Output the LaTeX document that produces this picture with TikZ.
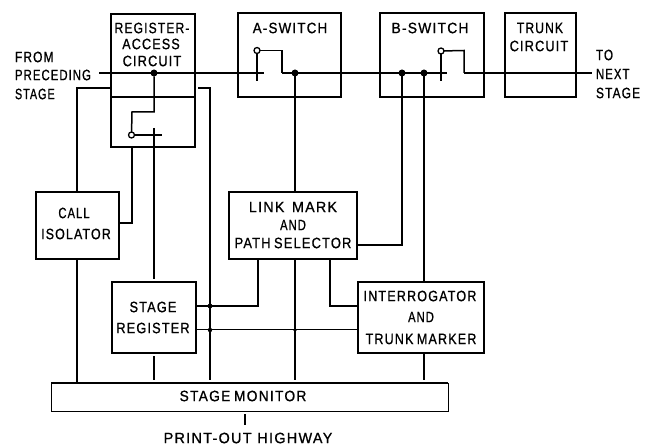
\documentclass[tikz,border=0pt]{standalone}
\usepackage{graphicx}
\usepackage{fontspec}
\setmainfont{Liberation Sans}[LetterSpace=9,FakeBold=1]
\newcommand{\sx}[2]{\scalebox{#1}[1]{#2}}
\tikzset{
  box/.style={draw,rectangle,line width=1.5pt,inner sep=0pt,outer sep=0pt},
  lab/.style={inner sep=0pt,outer sep=0pt,font=\fontsize{15}{15}\selectfont,text=black},
  llab/.style={lab,anchor=west},
  wire/.style={line width=1.5pt},
  thin wire/.style={line width=1pt},
  dot/.style={circle,fill=black,inner sep=0pt,minimum size=7pt,outer sep=0pt},
  contact/.style={circle,draw,fill=white,line width=1.3pt,inner sep=0pt,minimum size=6pt,outer sep=0pt},
  pt/.style={inner sep=0pt,outer sep=0pt,minimum size=0pt}
}
\begin{document}
\begin{tikzpicture}[x=1pt,y=-1pt]
\useasboundingbox (0,0) rectangle (648,446);
% boxes
\node[box,minimum width=84pt,minimum height=133pt] (reg) at (153,80.5) {};
\node[box,minimum width=103pt,minimum height=84pt] (asw) at (289.5,55) {};
\node[box,minimum width=104pt,minimum height=84pt] (bsw) at (432,55) {};
\node[box,minimum width=71pt,minimum height=84pt] (trunk) at (540.5,55) {};
\node[box,minimum width=83pt,minimum height=67pt] (call) at (77.5,225.5) {};
\node[box,minimum width=128pt,minimum height=67pt] (link) at (293,225.5) {};
\node[box,minimum width=84pt,minimum height=71pt] (sreg) at (154,317.5) {};
\node[box,minimum width=126pt,minimum height=71pt] (intg) at (421,317.5) {};
\node[box,line width=1pt,minimum width=397pt,minimum height=28pt] (mon) at (249.5,397) {};
\draw[wire] (mon.north west) -- (mon.north east);
% free points and junctions
\node[pt] (in) at (99,73) {};
\node[pt] (out) at (592,73) {};
\node[dot] (j1) at (154,73) {};
\node[dot] (j2) at (295,73) {};
\node[dot] (j3) at (402,73) {};
\node[dot] (j4) at (424,73) {};
\node[contact] (c0) at (131.5,135) {};
\node[contact] (ca) at (257,50.5) {};
\node[contact] (cb) at (441,51) {};
\fill (210,306) circle (2.4pt) (210,330) circle (2.2pt) (295,330) circle (1.8pt);
% register-access divider
\draw[wire] (reg.west |- 0,97) -- (reg.east |- 0,97);
% main line
\draw[wire] (in) -- (264,73);
\draw[wire] (282,73) -- (447,73);
\draw[wire] (464,73) -- (out);
% A contact
\draw[wire] (ca) -- (257,81);
\draw[wire] (ca) -- (282,50.5) -- (282,73);
% B contact
\draw[wire] (cb) -- (441,81);
\draw[wire] (cb) -- (464,50.5) -- (464,73);
% register-access contact
\draw[wire] (j1) -- (154,112) -- (132,112) -- (c0);
\draw[wire] (c0) -- (162,135);
\draw[wire] (154,128) -- (154,279);
% connectors
\draw[wire] (reg.west |- 0,88) -- (77,88) -- (call.north -| 77,0);
\draw[wire] (198,88) -- (210,88) -- (210,380);
\draw[wire] (reg.south -| 132,0) -- (132,223) -- (call.east |- 0,223);
\draw[wire] (sreg.south -| 154,0) ++(0,3) -- (154,380);
\draw[wire] (call.south -| 77,0) -- (mon.north -| 77,0);
\draw[wire] (j2) -- (link.north -| 295,0);
\draw[wire] (link.south -| 295,0) -- (295,380);
\draw[wire] (link.east |- 0,245) -- (402,245) -- (j3);
\draw[wire] (j4) -- (intg.north -| 424,0);
\draw[wire] (link.south -| 258,0) -- (258,306) -- (sreg.east |- 0,306);
\draw[wire] (link.south -| 330,0) -- (330,306) -- (intg.west |- 0,306);
\draw[thin wire] (sreg.east |- 0,330) -- (intg.west |- 0,330);
\draw[wire] (intg.south -| 424,0) -- (424,380);
\node[lab] (phw) at (248,438) {\sx{.96}{PRINT-OUT\hspace{6pt}HIGHWAY}};
\draw[wire] (245,414) -- (245,425);
% labels
\node[lab] (t1) at (152,28) {\sx{.81}{REGISTER-}};
\node[lab] (t2) at (151,44) {\sx{.84}{ACCESS}};
\node[lab] (t3) at (152,61) {\sx{.85}{CIRCUIT}};
\node[lab] (t4) at (290,28) {\sx{.89}{A-SWITCH}};
\node[lab] (t5) at (430,28) {\sx{.92}{B-SWITCH}};
\node[lab] (t6) at (540,28) {\sx{.81}{TRUNK}};
\node[lab] (t7) at (539,46) {\sx{.85}{CIRCUIT}};
\node[llab] (t8) at (15,57) {\sx{.8}{FROM}};
\node[llab] (t9) at (15,75) {\sx{.76}{PRECEDING}};
\node[llab] (t10) at (15,94) {\sx{.72}{STAGE}};
\node[llab] (t11) at (596,55) {\sx{.78}{TO}};
\node[llab] (t12) at (596,74) {\sx{.76}{NEXT}};
\node[llab] (t13) at (596,93) {\sx{.8}{STAGE}};
\node[lab] (t14) at (74,213) {\sx{.75}{CALL}};
\node[lab] (t15) at (76,234) {\sx{.83}{ISOLATOR}};
\node[lab] (t16) at (293,207) {\sx{.95}{LINK\hspace{8pt}MARK}};
\node[lab] (t17) at (293,225) {\sx{.75}{AND}};
\node[lab] (t18) at (293,243) {\sx{.86}{PATH\hspace{4pt}SELECTOR}};
\node[lab] (t19) at (153,307) {\sx{.85}{STAGE}};
\node[lab] (t20) at (153,328) {\sx{.85}{REGISTER}};
\node[lab] (t21) at (420,296) {\sx{.84}{INTERROGATOR}};
\node[lab] (t22) at (421,317) {\sx{.75}{AND}};
\node[lab] (t23) at (421,339) {\sx{.84}{TRUNK\hspace{4pt}MARKER}};
\node[lab] (t24) at (243,396) {\sx{.92}{STAGE\hspace{4pt}MONITOR}};
\end{tikzpicture}
\end{document}
